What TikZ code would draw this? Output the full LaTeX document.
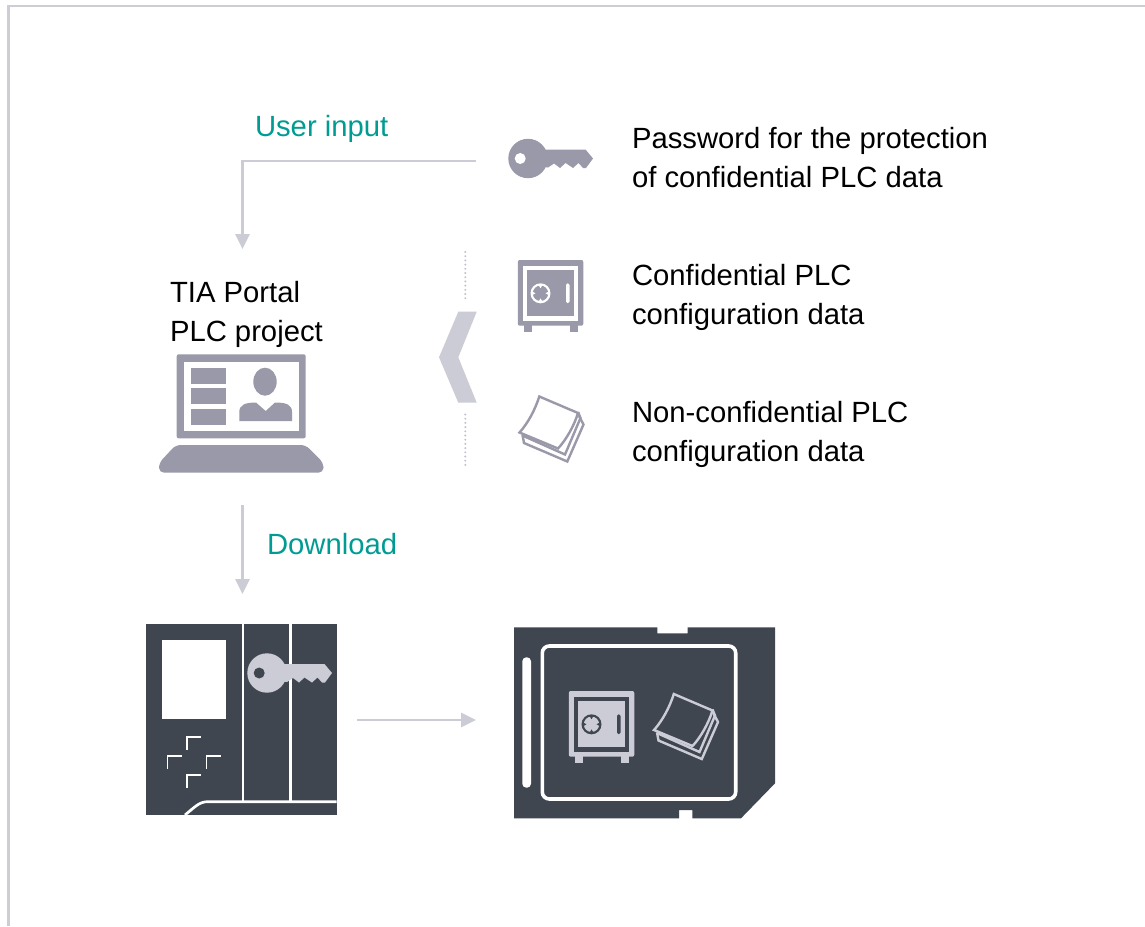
\documentclass[tikz,border=0pt]{standalone}
\usepackage{fontspec}
\setmainfont{Liberation Sans}
\usetikzlibrary{arrows.meta}
\definecolor{framec}{HTML}{CDCDD5}
\definecolor{iconc}{HTML}{9999A9}
\definecolor{lightc}{HTML}{CCCCD6}
\definecolor{darkc}{HTML}{3F4650}
\definecolor{tealc}{HTML}{009C93}
\newcommand{\keyicon}[3]{% shift, fg, hole
\begin{scope}[shift={(#1)}]
\fill[#2] (0,0) circle[radius=19.7];
\fill[#2] (12,-9) -- (57.5,-9) -- (65,0) -- (58,9.5) -- (55,9.5) -- (50.5,4.5) -- (45,9.5) -- (37.5,4.5) -- (32,9.5) -- (26,5) -- (20,9) -- (12,8) -- cycle;
\fill[#3] (-7.8,0) circle[radius=5.5];
\end{scope}}
\newcommand{\safeicon}[3]{% shift, fg, bg
\begin{scope}[shift={(#1)}]
\fill[#2,rounded corners=2pt] (517.8,260) rectangle (583.3,325.7);
\fill[#2] (524,325) rectangle (532,332);
\fill[#2] (570,325) rectangle (578,332);
\fill[#3] (523.3,265.5) rectangle (578.3,320.5);
\fill[#2] (527.3,270.3) rectangle (574,316);
\fill[#3] (540.5,293.3) circle[radius=10];
\fill[#2] (540.5,293.3) circle[radius=7.7];
\foreach \a in {0,90,180,270}{\fill[#3,rotate around={\a:(540.5,293.3)}] (538.7,285.2) -- (542.3,285.2) -- (540.5,288.2) -- cycle;}
\fill[#3,rounded corners=1.5pt] (566,283.3) rectangle (569.5,303.2);
\end{scope}}
\newcommand{\papericon}[3]{% shift, fg, bg
\begin{scope}[shift={(#1)},line join=miter]
\draw[#2,line width=2.4pt] (522.5,435) -- (524,443) -- (567.3,461.5) -- (583.5,424.5) -- (579,416);
\draw[#2,line width=2.4pt] (523,429) -- (523.5,436) -- (565,454.5) -- (580.5,418) -- (578,412);
\draw[#2,line width=2.4pt,fill=#3] (539.3,396.5) -- (578,413) .. controls (574,426) and (566,440) .. (558,448.5) -- (519.5,432.5) .. controls (528,423) and (535,410) .. cycle;
\end{scope}}
\tikzset{
 lab/.style={inner sep=0pt,outer sep=0pt,anchor=base west,align=left,font=\fontsize{29.25}{39}\selectfont,text=black},
 tlab/.style={lab,text=tealc},
 flow/.style={draw=lightc,line width=2.7pt,-{Triangle[length=15pt,width=14pt]}},
 dotsl/.style={draw=lightc!80!iconc,line width=2.2pt,line cap=round,dash pattern=on 0pt off 4.2pt},
}
\begin{document}
\begin{tikzpicture}[x=1pt,y=-1pt]
\useasboundingbox (0,0) rectangle (1145,926);
\fill[white] (0,0) rectangle (1145,926);
\draw[framec,line width=2.5pt] (8.5,926) -- (8.5,6) -- (1145,6);
% connectors
\coordinate (keyend) at (476,161);
\coordinate (bend) at (242.5,161);
\coordinate (prjtop) at (242.5,249);
\coordinate (lapbot) at (242.5,505);
\coordinate (plctop) at (242.5,594);
\coordinate (plcright) at (357,720);
\coordinate (sdleft) at (476,720);
\draw[flow] (keyend) -- (bend) -- (prjtop);
\draw[flow] (lapbot) -- (plctop);
\draw[flow] (plcright) -- (sdleft);
% labels
\node[tlab] (userinput) at (255,136) {User input};
\node[tlab] (download) at (267,554) {Download};
\node[lab] (pw) at (632,187) {Password for the protection\\of confidential PLC data};
\node[lab] (conf) at (632,324) {Confidential PLC\\configuration data};
\node[lab] (nonconf) at (632,461) {Non-confidential PLC\\configuration data};
\node[lab] (tia) at (170,341) {TIA Portal\\PLC project};
% icons right
\keyicon{528,158.5}{iconc}{white}
\safeicon{0,0}{iconc}{white}
\papericon{0,0}{iconc}{white}
% chevron and dots
\fill[lightc] (458.3,311.7) -- (476.7,311.7) -- (458.3,357.3) -- (476.7,402.7) -- (458.3,402.7) -- (439,357.3) -- cycle;
\draw[dotsl] (465.3,252) -- (465.3,302);
\draw[dotsl] (465.3,414.5) -- (465.3,466.5);
% laptop
\fill[iconc,rounded corners=2pt] (176.7,354.3) rectangle (305.7,438.3);
\fill[white] (183.7,362) rectangle (298.7,431.3);
\fill[iconc] (191,368) rectangle (226,384);
\fill[iconc] (191,388) rectangle (226,404);
\fill[iconc] (191,409) rectangle (226,425);
\fill[iconc] (265,381.7) ellipse[x radius=11.7,y radius=14];
\fill[iconc] (239.3,421) -- (239.3,412) .. controls (239.3,405) and (245,402.5) .. (256,402.5) -- (265.7,411) -- (275,402.5) .. controls (287,402.5) and (292,405) .. (292,412) -- (292,421) -- cycle;
\fill[iconc,rounded corners=5pt] (175.7,445) -- (305.7,445) -- (323.5,463) -- (323.5,472.7) -- (159,472.7) -- (159,463) -- cycle;
% PLC
\fill[darkc] (146,624) rectangle (336.7,815);
\fill[white] (161.7,639.7) rectangle (225.7,719.3);
\draw[white,line width=2.7pt] (243,624) -- (243,801.5);
\draw[white,line width=2.7pt] (290.7,624) -- (290.7,801.5);
\draw[white,line width=2.7pt] (336.7,801.7) -- (208.3,801.7) .. controls (200,801.7) and (197,805) .. (185,815);
\foreach \px/\py in {186.7/736.7,167.5/756,206.5/756,186.7/775}{
  \draw[white,line width=1.8pt] (\px+14,\py) -- (\px,\py) -- (\px,\py+13);
}
\keyicon{267,673}{lightc}{darkc}
% SD card
\fill[darkc] (514,627.3) -- (657.3,627.3) -- (657.3,633.3) -- (687.7,633.3) -- (687.7,627.3) -- (775,627.3) -- (775,783.3) -- (741,818.3) -- (692.3,818.3) -- (692.3,810) -- (679,810) -- (679,818.3) -- (514,818.3) -- cycle;
\draw[white,line width=3.6pt,rounded corners=7pt] (542.3,646) rectangle (735.7,799);
\fill[white,rounded corners=4pt] (522.3,657.3) rectangle (531,787.7);
\safeicon{51,431}{lightc}{darkc}
\papericon{134.5,297.5}{lightc}{darkc}
\end{tikzpicture}
\end{document}
